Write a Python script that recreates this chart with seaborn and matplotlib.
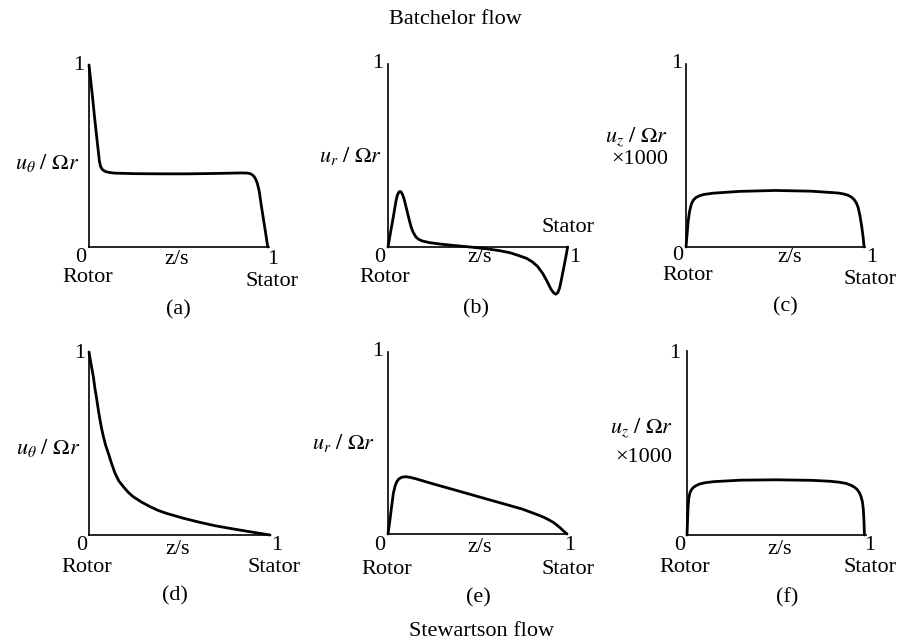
import matplotlib
matplotlib.use("Agg")
import matplotlib.pyplot as plt
import pandas as pd
import seaborn as sns

# ---- velocity profiles across the gap (z/s from rotor 0 to stator 1) ----
# Batchelor flow
bat_ut_z = [0.0, 0.01, 0.02, 0.03, 0.04, 0.05, 0.058, 0.065, 0.075, 0.09, 0.11,
            0.14, 0.25, 0.40, 0.55, 0.70, 0.85, 0.88, 0.895, 0.905, 0.915, 0.925,
            0.935, 0.945, 0.96, 0.98, 0.993]
bat_ut_v = [1.0, 0.91, 0.82, 0.72, 0.63, 0.54, 0.47, 0.44, 0.425, 0.415, 0.41,
            0.406, 0.403, 0.402, 0.402, 0.404, 0.407, 0.406, 0.403, 0.398, 0.39, 0.375,
            0.35, 0.31, 0.21, 0.085, 0.0]

bat_ur_z = [0.0, 0.015, 0.03, 0.045, 0.052, 0.06, 0.067, 0.074, 0.082, 0.09, 0.10,
            0.11, 0.12, 0.13, 0.14, 0.155, 0.17, 0.19, 0.23, 0.29, 0.36, 0.456,
            0.55, 0.62, 0.68, 0.73, 0.77, 0.80, 0.83, 0.86, 0.885, 0.905, 0.92,
            0.932, 0.943, 0.953, 0.963, 0.975, 0.987, 0.998]
bat_ur_v = [0.0, 0.085, 0.167, 0.255, 0.283, 0.299, 0.304, 0.299, 0.284, 0.26, 0.22,
            0.18, 0.14, 0.105, 0.08, 0.055, 0.042, 0.033, 0.024, 0.016, 0.009, 0.0,
            -0.01, -0.02, -0.032, -0.048, -0.062, -0.08, -0.105, -0.145, -0.19, -0.23, -0.25,
            -0.258, -0.25, -0.225, -0.18, -0.12, -0.06, 0.0]

bat_uz_z = [0.0, 0.006, 0.012, 0.02, 0.03, 0.04, 0.055, 0.075, 0.10, 0.15, 0.30,
            0.50, 0.70, 0.85, 0.88, 0.905, 0.925, 0.94, 0.952, 0.962, 0.972, 0.982,
            0.99, 0.995]
bat_uz_v = [0.0, 0.07, 0.14, 0.195, 0.235, 0.255, 0.27, 0.28, 0.287, 0.294, 0.304,
            0.309, 0.305, 0.295, 0.29, 0.283, 0.272, 0.258, 0.24, 0.215, 0.17, 0.11,
            0.05, 0.0]

# Stewartson flow
stw_ut_z = [0.0, 0.012, 0.024, 0.033, 0.043, 0.052, 0.061, 0.07, 0.079, 0.092,
            0.107, 0.125, 0.144, 0.165, 0.19, 0.215, 0.243, 0.29, 0.337, 0.38,
            0.429, 0.52, 0.613, 0.70, 0.797, 0.90, 1.0]
stw_ut_v = [1.0, 0.93, 0.865, 0.80, 0.74, 0.68, 0.628, 0.58, 0.54, 0.49,
            0.446, 0.39, 0.337, 0.295, 0.264, 0.235, 0.21, 0.18, 0.155, 0.135,
            0.118, 0.092, 0.069, 0.05, 0.033, 0.016, 0.0]

stw_ur_z = [0.0, 0.01, 0.02, 0.03, 0.04, 0.049, 0.06, 0.075, 0.095, 0.12, 0.15,
            0.25, 0.38, 0.57, 0.75, 0.84, 0.87, 0.90, 0.925, 0.945, 0.962, 0.977,
            0.99, 1.0]
stw_ur_v = [0.0, 0.07, 0.15, 0.224, 0.265, 0.287, 0.302, 0.311, 0.315, 0.312, 0.305,
            0.276, 0.24, 0.187, 0.137, 0.104, 0.092, 0.077, 0.063, 0.048, 0.034, 0.02,
            0.008, 0.0]

stw_uz_z = [0.0, 0.003, 0.006, 0.01, 0.016, 0.024, 0.035, 0.05, 0.07, 0.10, 0.15,
            0.30, 0.50, 0.70, 0.80, 0.85, 0.89, 0.915, 0.935, 0.95, 0.962, 0.972,
            0.98, 0.985, 0.988, 0.99, 0.991]
stw_uz_v = [0.0, 0.08, 0.15, 0.20, 0.228, 0.245, 0.258, 0.268, 0.277, 0.284, 0.29,
            0.298, 0.30, 0.297, 0.292, 0.287, 0.28, 0.271, 0.26, 0.248, 0.232, 0.21,
            0.18, 0.14, 0.09, 0.04, 0.0]

ylabel_ut = r"$u_{\theta}\ /\ \Omega r$"
ylabel_ur = r"$u_{r}\ /\ \Omega r$"
ylabel_uz = r"$u_{z}\ /\ \Omega r$"
panel_tags = ["(a)", "(b)", "(c)", "(d)", "(e)", "(f)"]

# ---- style ----
sns.set_theme(style="white")
plt.rcParams["font.family"] = ["Liberation Serif", "DejaVu Serif"]
plt.rcParams["mathtext.fontset"] = "stix"

W, H = 899, 644
FS = 16
fig = plt.figure(figsize=(W / 100, H / 100), dpi=100)


def px_axes(left, top, right, bottom):
    return fig.add_axes([left / W, 1 - bottom / H, (right - left) / W, (bottom - top) / H])


def put(x, y, s, ha="center", va="center", size=FS):
    fig.text(x / W, 1 - y / H, s, ha=ha, va=va, fontsize=size, color="black")


def profile(ax, z, v):
    df = pd.DataFrame({"z": z, "v": v})
    sns.lineplot(data=df, x="z", y="v", ax=ax, color="black", lw=2.0,
                 sort=False, estimator=None)
    for ln in ax.lines:
        ln.set_clip_on(False)
        ln.set_solid_joinstyle("round")
        ln.set_solid_capstyle("round")
    ax.set_xlim(0, 1)
    ax.set_ylim(0, 1)
    ax.set_xticks([])
    ax.set_yticks([])
    ax.set_xlabel("")
    ax.set_ylabel("")
    ax.set_facecolor("none")
    for side in ("top", "right"):
        ax.spines[side].set_visible(False)
    for side in ("left", "bottom"):
        ax.spines[side].set_color("black")
        ax.spines[side].set_linewidth(1.2)


ax_a = px_axes(89, 65, 269, 247)
ax_b = px_axes(388, 64, 568, 247)
ax_c = px_axes(686, 64, 865, 247)
ax_d = px_axes(89, 352, 270, 535)
ax_e = px_axes(388, 352, 567, 534)
ax_f = px_axes(687, 351, 866, 535)

profile(ax_a, bat_ut_z, bat_ut_v)
profile(ax_b, bat_ur_z, bat_ur_v)
profile(ax_c, bat_uz_z, bat_uz_v)
profile(ax_d, stw_ut_z, stw_ut_v)
profile(ax_e, stw_ur_z, stw_ur_v)
profile(ax_f, stw_uz_z, stw_uz_v)

# ---- titles ----
put(455, 19, "Batchelor flow")
put(482, 631, "Stewartson flow")

# ---- panel (a) ----
put(79, 65, "1")
put(79, 163, ylabel_ut, ha="right")
put(81, 257, "0")
put(177, 260, "z/s")
put(273, 260, "1")
put(88, 277, "Rotor")
put(272, 282, "Stator")
put(178, 310, panel_tags[0])

# ---- panel (b) ----
put(378, 64, "1")
put(382, 156, ylabel_ur, ha="right")
put(568, 228, "Stator")
put(380, 257, "0")
put(480, 258, "z/s")
put(575, 258, "1")
put(385, 277, "Rotor")
put(476, 309, panel_tags[1])

# ---- panel (c) ----
put(677, 64, "1")
put(668, 137, ylabel_uz, ha="right")
put(668, 160, "×1000", ha="right")
put(678, 256, "0")
put(790, 258, "z/s")
put(872, 258, "1")
put(688, 276, "Rotor")
put(870, 280, "Stator")
put(785, 307, panel_tags[2])

# ---- panel (d) ----
put(80, 353, "1")
put(80, 448, ylabel_ut, ha="right")
put(82, 546, "0")
put(178, 549, "z/s")
put(277, 546, "1")
put(87, 568, "Rotor")
put(274, 568, "Stator")
put(175, 596, panel_tags[3])

# ---- panel (e) ----
put(378, 352, "1")
put(375, 443, ylabel_ur, ha="right")
put(380, 546, "0")
put(480, 547, "z/s")
put(570, 546, "1")
put(387, 569, "Rotor")
put(568, 569, "Stator")
put(478, 598, panel_tags[4])

# ---- panel (f) ----
put(675, 353, "1")
put(673, 428, ylabel_uz, ha="right")
put(672, 457, "×1000", ha="right")
put(680, 546, "0")
put(780, 549, "z/s")
put(870, 546, "1")
put(685, 568, "Rotor")
put(870, 568, "Stator")
put(787, 598, panel_tags[5])

fig.savefig("out.png", dpi=100, facecolor="white")
